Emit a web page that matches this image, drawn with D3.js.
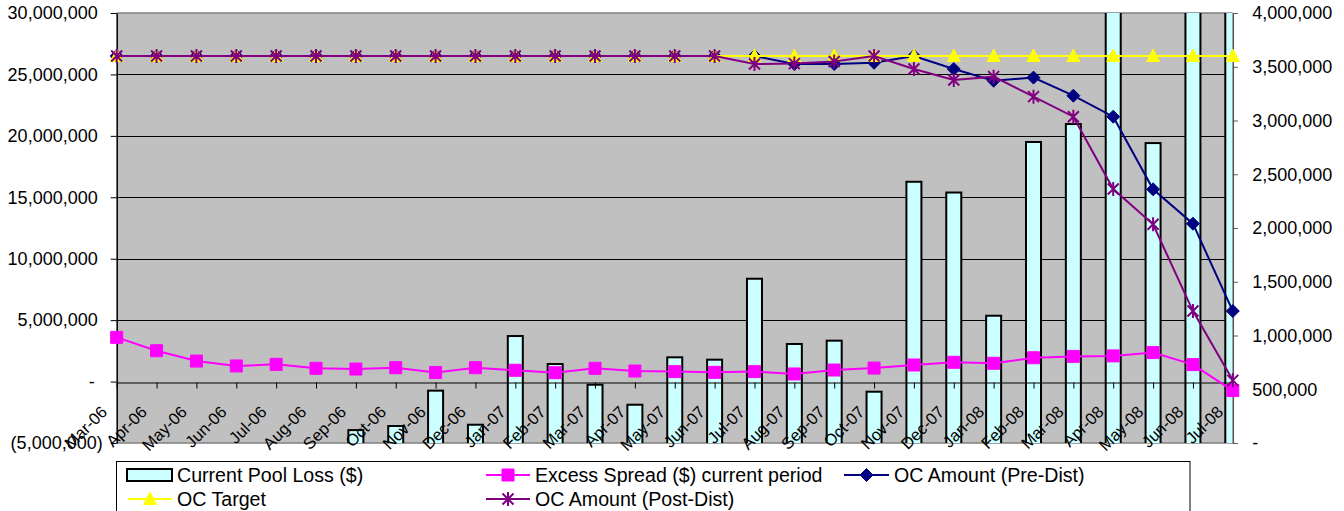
<!DOCTYPE html>
<html>
<head>
<meta charset="utf-8">
<script src="https://cdn.jsdelivr.net/npm/d3@7"></script>
<style>
  html, body { margin: 0; padding: 0; background: #fff; }
  svg { display: block; font-family: "Liberation Sans", Arial, sans-serif; }
</style>
</head>
<body>
<svg id="chart" width="1344" height="511"></svg>
<script>
const categories = ["Mar-06","Apr-06","May-06","Jun-06","Jul-06","Aug-06","Sep-06","Oct-06","Nov-06","Dec-06",
  "Jan-07","Feb-07","Mar-07","Apr-07","May-07","Jun-07","Jul-07","Aug-07","Sep-07","Oct-07","Nov-07","Dec-07",
  "Jan-08","Feb-08","Mar-08","Apr-08","May-08","Jun-08","Jul-08"];

// Current Pool Loss ($) - secondary (right) axis
const poolLoss = [0,0,0,0,0,0,120000,158000,487000,170000,995000,735000,542000,356000,797000,775000,
  1528000,921000,952000,477000,2430000,2330000,1184000,2800000,2967000,4500000,2790000,4800000,5200000];

// Line series - primary (left) axis
const excessSpread = [3600000,2510000,1670000,1270000,1400000,1080000,1020000,1130000,740000,1130000,
  920000,720000,1080000,860000,810000,750000,810000,620000,940000,1100000,1350000,1570000,1490000,
  1940000,2050000,2090000,2360000,1380000,-730000];
const ocPre = [26500000,26500000,26500000,26500000,26500000,26500000,26500000,26500000,26500000,26500000,
  26500000,26500000,26500000,26500000,26500000,26500000,26500000,25850000,25850000,25950000,26500000,
  25440000,24490000,24740000,23270000,21560000,15650000,12850000,5740000];
const ocTarget = [26500000,26500000,26500000,26500000,26500000,26500000,26500000,26500000,26500000,26500000,
  26500000,26500000,26500000,26500000,26500000,26500000,26500000,26500000,26500000,26500000,26500000,
  26500000,26500000,26500000,26500000,26500000,26500000,26500000,26500000];
const ocPost = [26500000,26500000,26500000,26500000,26500000,26500000,26500000,26500000,26500000,26500000,
  26500000,26500000,26500000,26500000,26500000,26500000,25850000,25880000,26050000,26500000,25440000,
  24550000,24820000,23190000,21560000,15670000,12800000,5740000,100000];

const leftTicks = [-5000000,0,5000000,10000000,15000000,20000000,25000000,30000000];
const rightTicks = [0,500000,1000000,1500000,2000000,2500000,3000000,3500000,4000000];

const seriesNames = ["Current Pool Loss ($)","Excess Spread ($) current period","OC Amount (Pre-Dist)","OC Target","OC Amount (Post-Dist)"];

const P = {left: 116.7, right: 1232.8, top: 13, bottom: 443};
const svg = d3.select("#chart");

const x = d3.scalePoint().domain(categories).range([P.left, P.right]);
const yL = d3.scaleLinear().domain([-5000000, 30000000]).range([P.bottom, P.top]);
const yR = d3.scaleLinear().domain([0, 4000000]).range([P.bottom, P.top]);

const fmt = d3.format(",");

// plot background
svg.append("rect").attr("x", P.left).attr("y", P.top)
  .attr("width", P.right - P.left).attr("height", P.bottom - P.top)
  .attr("fill", "#C0C0C0");

// gridlines
svg.append("g").selectAll("line").data(leftTicks.filter(v => v > 0 && v < 30000000))
  .join("line")
  .attr("x1", P.left).attr("x2", P.right)
  .attr("y1", d => Math.round(yL(d)) + 0.5).attr("y2", d => Math.round(yL(d)) + 0.5)
  .attr("stroke", "#000").attr("stroke-width", 1);

// border top/bottom (gray)
svg.append("line").attr("x1", P.left).attr("x2", P.right).attr("y1", P.top).attr("y2", P.top)
  .attr("stroke", "#808080").attr("stroke-width", 1.5);
svg.append("line").attr("x1", P.left).attr("x2", P.right).attr("y1", P.bottom).attr("y2", P.bottom)
  .attr("stroke", "#808080").attr("stroke-width", 1.5);

// clip
svg.append("defs").append("clipPath").attr("id", "plotclip")
  .append("rect").attr("x", P.left).attr("y", P.top)
  .attr("width", P.right - P.left).attr("height", P.bottom - P.top);

// bars
const barW = 15;
svg.append("g").attr("clip-path", "url(#plotclip)")
  .selectAll("rect").data(categories.map((c, i) => ({c, v: poolLoss[i]})).filter(d => d.v > 0))
  .join("rect")
  .attr("x", d => x(d.c) - barW / 2)
  .attr("y", d => yR(d.v))
  .attr("width", barW)
  .attr("height", d => yR(0) - yR(d.v) + 2)
  .attr("fill", "#CCFFFF")
  .attr("stroke", "#000").attr("stroke-width", 2);

// x axis at 0 (left)
const xAxisY = Math.round(yL(0)) + 0.5;
const xAxis = svg.append("g").attr("transform", `translate(0,${xAxisY})`)
  .call(d3.axisBottom(x).tickSize(6).tickSizeOuter(0).tickFormat(""));
xAxis.select(".domain").attr("stroke", "#000").attr("stroke-width", 1.2);
xAxis.selectAll(".tick line").attr("stroke", "#000");

// left axis
const la = svg.append("g").attr("transform", `translate(${P.left},0)`)
  .call(d3.axisLeft(yL).tickValues(leftTicks).tickSize(6).tickSizeOuter(0).tickPadding(13)
    .tickFormat(d => d === 0 ? "-" : (d < 0 ? "(" + fmt(-d) + ")" : fmt(d))));
la.select(".domain").attr("stroke", "#000").attr("stroke-width", 1.5);
la.selectAll(".tick line").attr("stroke", "#000");
la.selectAll(".tick text").attr("font-size", 18).attr("fill", "#000")
  .attr("font-family", "Liberation Sans, Arial, sans-serif")
  .attr("dx", d => d < 0 ? 5 : (d === 0 ? -3 : 0));

// right axis
const ra = svg.append("g").attr("transform", `translate(${P.right},0)`)
  .call(d3.axisRight(yR).tickValues(rightTicks).tickSize(5).tickSizeOuter(0).tickPadding(14.5)
    .tickFormat(d => d === 0 ? "-" : fmt(d)));
ra.select(".domain").attr("stroke", "#555").attr("stroke-width", 1.5);
ra.selectAll(".tick line").attr("stroke", "#555");
ra.selectAll(".tick text").attr("font-size", 18).attr("fill", "#000")
  .attr("font-family", "Liberation Sans, Arial, sans-serif");

// markers
const sym = {
  square: "M-6,-6H6V6H-6Z",
  diamond: "M0,-6.5L6.5,0L0,6.5L-6.5,0Z",
  triangle: "M0,-7L6.5,5.5H-6.5Z",
  star: "M-5.5,-5.5L5.5,5.5M-5.5,5.5L5.5,-5.5M0,-7V7"
};

function drawSeries(vals, color, shape) {
  const pts = categories.map((c, i) => [x(c), yL(vals[i])]);
  const g = svg.append("g");
  g.append("path").attr("d", d3.line()(pts)).attr("fill", "none")
    .attr("stroke", color).attr("stroke-width", 2);
  g.selectAll("path.m").data(pts).join("path").attr("class", "m")
    .attr("transform", d => `translate(${d[0]},${d[1]})`)
    .attr("d", sym[shape])
    .attr("fill", shape === "star" ? "none" : color)
    .attr("stroke", color).attr("stroke-width", shape === "star" ? 2 : 1);
}
drawSeries(excessSpread, "#FF00FF", "square");
drawSeries(ocPre, "#000080", "diamond");
drawSeries(ocTarget, "#FFFF00", "triangle");
drawSeries(ocPost, "#800080", "star");

// x labels (rotated)
svg.append("g").selectAll("text").data(categories).join("text")
  .attr("transform", d => `translate(${x(d) - 8.5},413) rotate(-45)`)
  .attr("text-anchor", "end")
  .attr("font-size", 16.5).attr("fill", "#000")
  .text(d => d);

// legend
const lg = svg.append("g");
lg.append("rect").attr("x", 116.5).attr("y", 461.5).attr("width", 1073.5).attr("height", 60)
  .attr("fill", "#fff").attr("stroke", "#000").attr("stroke-width", 1);

const legendItems = [
  {name: seriesNames[0], type: "bar", lx: 127, tx: 177, cy: 475, by: 481.5},
  {name: seriesNames[1], type: "line", color: "#FF00FF", shape: "square", lx: 486, tx: 535, cy: 475, by: 481.5},
  {name: seriesNames[2], type: "line", color: "#000080", shape: "diamond", lx: 844, tx: 894, cy: 475, by: 481.5},
  {name: seriesNames[3], type: "line", color: "#FFFF00", shape: "triangle", lx: 128, tx: 177, cy: 499, by: 505.7},
  {name: seriesNames[4], type: "line", color: "#800080", shape: "star", lx: 486, tx: 535, cy: 499, by: 505.7}
];
legendItems.forEach(it => {
  if (it.type === "bar") {
    lg.append("rect").attr("x", it.lx).attr("y", it.cy - 6).attr("width", 45).attr("height", 12)
      .attr("fill", "#CCFFFF").attr("stroke", "#000").attr("stroke-width", 2);
  } else {
    const w = it.tx - it.lx - 5;
    lg.append("line").attr("x1", it.lx).attr("x2", it.lx + w).attr("y1", it.cy).attr("y2", it.cy)
      .attr("stroke", it.color).attr("stroke-width", 2);
    lg.append("path").attr("transform", `translate(${it.lx + w / 2},${it.cy})`)
      .attr("d", sym[it.shape]).attr("fill", it.shape === "star" ? "none" : it.color)
      .attr("stroke", it.color).attr("stroke-width", it.shape === "star" ? 2 : 1);
  }
  lg.append("text").attr("x", it.tx).attr("y", it.by).attr("font-size", 19.6).attr("fill", "#000")
    .text(it.name);
});
</script>
</body>
</html>
